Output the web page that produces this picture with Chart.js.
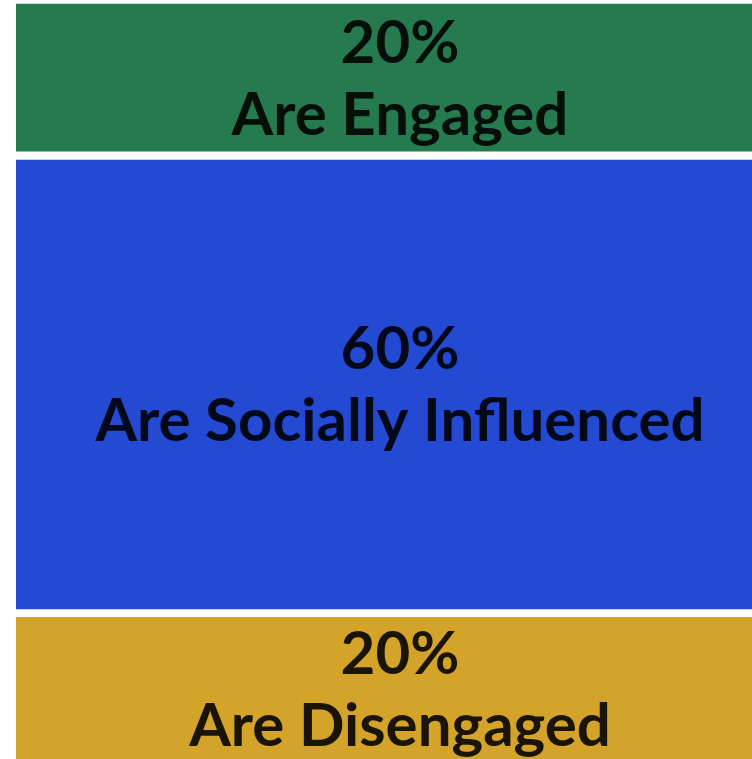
<!DOCTYPE html>
<html lang="en">
<head>
    <meta charset="UTF-8">
    <title>Engagement split</title>
    <script src="https://cdn.jsdelivr.net/npm/chart.js"></script>
    <style>
        html, body {
            margin: 0;
            background: #ffffff;
            overflow: hidden;
        }
        #chartContainer {
            width: 784px;
            height: 766px;
        }
    </style>
</head>
<body>
    <div id="chartContainer">
        <canvas id="myChart"></canvas>
    </div>
    <script>
        // datos del grafico
        const categories = ['Employees'];
        const groupLabels = ['Are Engaged', 'Are Socially Influenced', 'Are Disengaged'];
        const shares = [20, 60, 20];
        const groupColors = ['#267a50', '#2449d3', '#d4a42a'];

        // texto dentro de cada bloque: porcentaje arriba, etiqueta abajo
        const blockText = {
            id: 'blockText',
            afterDatasetsDraw(chart) {
                const ctx = chart.ctx;
                ctx.save();
                ctx.fillStyle = 'rgba(0, 0, 0, 0.88)';
                ctx.textAlign = 'center';
                ctx.textBaseline = 'alphabetic';
                ctx.font = 'bold 60px Lato';
                chart.data.datasets.forEach((ds, i) => {
                    const bar = chart.getDatasetMeta(i).data[0];
                    const mid = (bar.y + bar.base) / 2;
                    ctx.fillText(ds.data[0] + '%', bar.x, mid - 16);
                    ctx.fillText(ds.label, bar.x, mid + 56);
                });
                ctx.restore();
            }
        };

        const borders = [
            { top: 1, bottom: 4.5, left: 0, right: 0 },
            { top: 4.5, bottom: 4.5, left: 0, right: 0 },
            { top: 4, bottom: 0, left: 0, right: 0 }
        ];

        const ctx = document.getElementById('myChart').getContext('2d');
        new Chart(ctx, {
            type: 'bar',
            data: {
                labels: categories,
                datasets: groupLabels.map((label, i) => ({
                    label: label,
                    data: [shares[i]],
                    backgroundColor: groupColors[i],
                    borderColor: '#ffffff',
                    borderWidth: borders[i],
                    borderSkipped: false,
                    barPercentage: 1,
                    categoryPercentage: 1
                }))
            },
            options: {
                responsive: true,
                maintainAspectRatio: false,
                animation: false,
                layout: {
                    padding: { left: 16, top: 3, right: 0, bottom: 0 }
                },
                plugins: {
                    legend: { display: false },
                    tooltip: { enabled: false }
                },
                scales: {
                    x: { stacked: true, display: false },
                    y: { stacked: true, display: false, reverse: true, min: 0, max: 100 }
                }
            },
            plugins: [blockText]
        });
    </script>
</body>
</html>
